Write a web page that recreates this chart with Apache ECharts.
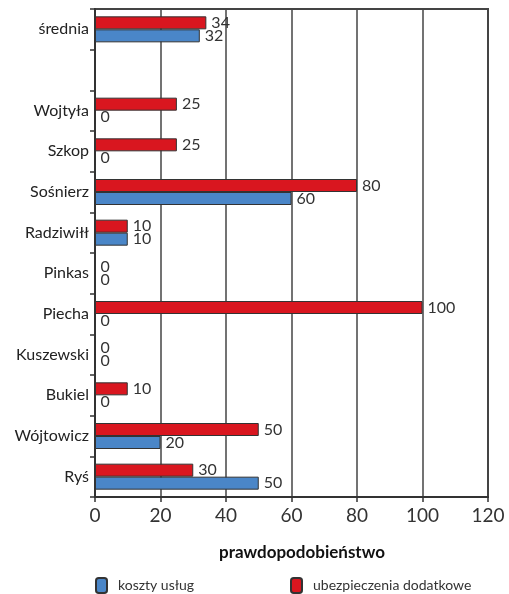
<!DOCTYPE html>
<html>
<head>
<meta charset="utf-8">
<script src="https://cdn.jsdelivr.net/npm/echarts@6/dist/echarts.min.js"></script>
<style>
  html, body { margin: 0; padding: 0; background: #fff; }
  #chart { width: 509px; height: 594px; }
</style>
</head>
<body>
<div id="chart"></div>
<script>
// Categories listed from bottom to top; the empty entry is a spacer row.
const categories = ['Ryś', 'Wójtowicz', 'Bukiel', 'Kuszewski', 'Piecha', 'Pinkas',
  'Radziwiłł', 'Sośnierz', 'Szkop', 'Wojtyła', '', 'średnia'];
const kosztyUslug = [50, 20, 0, 0, 0, 0, 10, 60, 0, 0, null, 32];
const ubezpieczenia = [30, 50, 10, 0, 100, 0, 10, 80, 25, 25, null, 34];
const xTicks = [0, 20, 40, 60, 80, 100, 120];
const axisTitle = 'prawdopodobieństwo';

const FONT = 'Lato';
const chart = echarts.init(document.getElementById('chart'), null, { renderer: 'canvas' });

const barLabel = {
  show: true,
  position: 'right',
  distance: 5,
  fontFamily: FONT,
  fontSize: 16,
  color: '#333'
};

const legendText = { fontFamily: FONT, fontSize: 14, color: '#333', padding: [0, 0, 0, 6] };

chart.setOption({
  animation: false,
  textStyle: { fontFamily: FONT },
  grid: {
    left: 95, right: 21, top: 9, bottom: 97,
    show: true, borderColor: '#444', borderWidth: 2
  },
  xAxis: {
    type: 'value',
    min: xTicks[0],
    max: xTicks[xTicks.length - 1],
    interval: 20,
    axisLine: { show: true, lineStyle: { color: '#333', width: 2 } },
    axisTick: { show: true, length: 5, lineStyle: { color: '#333', width: 1.5 } },
    axisLabel: { fontFamily: FONT, fontSize: 19, color: '#333', margin: 9 },
    splitLine: { show: true, lineStyle: { color: '#444', width: 1.5 } }
  },
  yAxis: {
    type: 'category',
    data: categories,
    axisLine: { show: true, lineStyle: { color: '#333', width: 2 } },
    axisTick: { show: true, length: 5, alignWithLabel: false, lineStyle: { color: '#333', width: 1.5 } },
    axisLabel: { fontFamily: FONT, fontSize: 16, color: '#222', margin: 6 },
    splitLine: { show: false }
  },
  graphic: [
    {
      type: 'text',
      x: 302, y: 553,
      style: {
        text: axisTitle,
        align: 'center', verticalAlign: 'middle',
        fontFamily: FONT, fontSize: 17, fontWeight: 'bold', fill: '#111'
      }
    }
  ],
  legend: [
    {
      data: ['koszty usług'],
      left: 90, top: 572,
      itemWidth: 11, itemHeight: 15,
      textStyle: legendText
    },
    {
      data: ['ubezpieczenia dodatkowe'],
      left: 285, top: 572,
      itemWidth: 11, itemHeight: 15,
      textStyle: legendText
    }
  ],
  series: [
    {
      name: 'ubezpieczenia dodatkowe',
      type: 'bar',
      data: ubezpieczenia,
      barWidth: 13,
      barGap: '0%',
      itemStyle: { color: '#d9161f', borderColor: '#333', borderWidth: 1 },
      label: barLabel
    },
    {
      name: 'koszty usług',
      type: 'bar',
      data: kosztyUslug,
      barWidth: 13,
      barGap: '0%',
      itemStyle: { color: '#4a86c8', borderColor: '#333', borderWidth: 1 },
      label: barLabel
    }
  ]
});
</script>
</body>
</html>
